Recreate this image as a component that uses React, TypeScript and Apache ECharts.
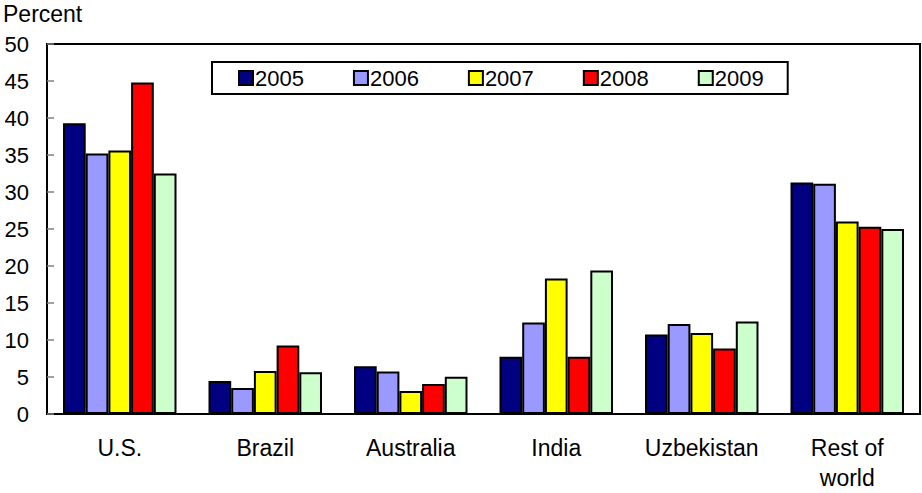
import React, { useEffect, useRef } from "react";
import * as echarts from "echarts";

const categories = ["U.S.", "Brazil", "Australia", "India", "Uzbekistan", "Rest of\nworld"];
const years = ["2005", "2006", "2007", "2008", "2009"];
const colors = ["#000080", "#9999FF", "#FFFF00", "#FF0000", "#CCFFCC"];
const values2005 = [39.3, 4.45, 6.45, 7.75, 10.75, 31.3];
const values2006 = [35.2, 3.5, 5.75, 12.35, 12.15, 31.1];
const values2007 = [35.6, 5.8, 3.1, 18.3, 10.95, 26.0];
const values2008 = [44.8, 9.25, 4.05, 7.75, 8.85, 25.3];
const values2009 = [32.5, 5.65, 5.05, 19.4, 12.5, 25.0];
const seriesValues = [values2005, values2006, values2007, values2008, values2009];
const yTicks = { min: 0, max: 50, interval: 5 };

const FONT = "'Liberation Sans', Arial, Helvetica, sans-serif";

export default function App() {
  const ref = useRef<HTMLDivElement>(null);
  useEffect(() => {
    if (!ref.current) return;
    const chart = echarts.init(ref.current, null, { renderer: "svg" });
    chart.setOption({
      animation: false,
      backgroundColor: "#ffffff",
      textStyle: { fontFamily: FONT },
      grid: {
        left: 47,
        top: 44,
        right: 2,
        bottom: 74,
        show: true,
        borderColor: "#000",
        borderWidth: 2,
        backgroundColor: "transparent",
      },
      graphic: [
        {
          type: "text",
          left: 3,
          top: 2,
          style: { text: "Percent", font: `23px ${FONT}`, fill: "#000" },
        },
      ],
      legend: {
        data: years,
        left: 212,
        top: 62,
        orient: "horizontal",
        itemWidth: 14,
        itemHeight: 14,
        itemGap: 49,
        padding: [5, 24, 5, 26],
        borderColor: "#000",
        borderWidth: 2,
        icon: "rect",
        textStyle: { fontSize: 22, color: "#000", fontFamily: FONT, padding: [0, 0, 0, -3] },
      },
      xAxis: {
        type: "category",
        data: categories,
        axisLine: { lineStyle: { color: "#000", width: 2 } },
        axisTick: { inside: true, length: 6, interval: 0, lineStyle: { color: "#808080", width: 1.5 } },
        axisLabel: {
          interval: 0,
          hideOverlap: false,
          fontSize: 23,
          color: "#000",
          margin: 19,
          lineHeight: 30,
          fontFamily: FONT,
        },
      },
      yAxis: {
        type: "value",
        min: yTicks.min,
        max: yTicks.max,
        interval: yTicks.interval,
        splitLine: { show: false },
        axisLine: { show: true, lineStyle: { color: "#000", width: 2 } },
        axisTick: { show: true, inside: true, length: 7, lineStyle: { color: "#808080", width: 1.5 } },
        axisLabel: { fontSize: 22, color: "#000", margin: 18, fontFamily: FONT },
      },
      series: years.map((y, i) => ({
        name: y,
        type: "bar",
        data: seriesValues[i],
        barGap: "0%",
        barCategoryGap: "22%",
        itemStyle: { color: colors[i], borderColor: "#000", borderWidth: 2 },
      })),
    });
    return () => chart.dispose();
  }, []);
  return (
    <div
      ref={ref}
      style={{ position: "fixed", left: 0, top: 0, width: 922, height: 493, background: "#fff" }}
    />
  );
}
